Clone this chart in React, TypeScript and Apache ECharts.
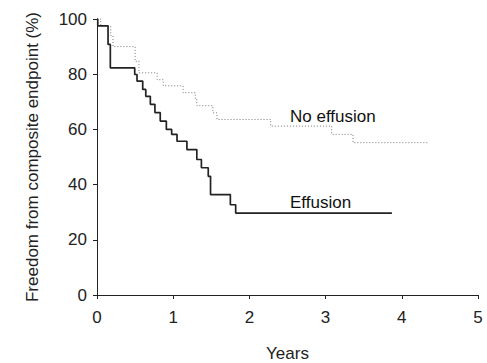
import React, { useEffect, useRef } from "react";
import * as echarts from "echarts";

// Kaplan-Meier step points: [years, % free from endpoint]
const effusionTimes = [0, 0.01, 0.145, 0.175, 0.495, 0.525, 0.6, 0.64, 0.7, 0.76, 0.83, 0.91, 0.98, 1.05, 1.18, 1.31, 1.37, 1.46, 1.49, 1.75, 1.82, 3.87];
const effusionValues = [100, 97.5, 90.8, 82.3, 79.9, 77.5, 74.5, 72, 69.1, 66.1, 63, 60, 58.2, 55.7, 52.7, 49.1, 46.1, 43, 36.4, 32.7, 29.7, 29.7];

const noEffusionTimes = [0, 0.05, 0.18, 0.21, 0.5, 0.55, 0.79, 0.87, 1.13, 1.29, 1.31, 1.52, 1.575, 2.28, 3.08, 3.36, 4.35];
const noEffusionValues = [100, 97.5, 94, 90, 84.7, 80.5, 78, 75.8, 73.3, 71, 68.6, 66, 63.6, 61.2, 58.2, 55.2, 55.2];

const xTicks = [0, 1, 2, 3, 4, 5];
const yTicks = [0, 20, 40, 60, 80, 100];

const seriesLabels = ["Effusion", "No effusion"];
const xTitle = "Years";
const yTitle = "Freedom from composite endpoint (%)";

const FONT = "Liberation Sans, Arial, Helvetica, sans-serif";

export default function App() {
  const ref = useRef<HTMLDivElement>(null);
  useEffect(() => {
    if (!ref.current) return;
    const chart = echarts.init(ref.current, undefined, { renderer: "svg" });
    const eff = effusionTimes.map((t, i) => [t, effusionValues[i]]);
    const noEff = noEffusionTimes.map((t, i) => [t, noEffusionValues[i]]);
    chart.setOption({
      animation: false,
      backgroundColor: "#ffffff",
      grid: { left: 97, right: 9, top: 19, bottom: 68, containLabel: false, outerBoundsMode: "none" },
      xAxis: {
        type: "value",
        min: xTicks[0],
        max: xTicks[xTicks.length - 1],
        interval: 1,
        name: xTitle,
        nameLocation: "middle",
        nameGap: 50,
        nameTextStyle: { fontFamily: FONT, fontSize: 17, lineHeight: 17, color: "#222" },
        axisLine: { show: true, onZero: false, lineStyle: { color: "#222", width: 1 } },
        axisTick: { show: true, length: 4, lineStyle: { color: "#222" } },
        axisLabel: { fontFamily: FONT, fontSize: 17, color: "#222", margin: 14 },
        splitLine: { show: false },
      },
      yAxis: {
        type: "value",
        min: yTicks[0],
        max: yTicks[yTicks.length - 1],
        interval: 20,
        name: yTitle,
        nameLocation: "middle",
        nameGap: 56,
        nameRotate: 90,
        nameTextStyle: { fontFamily: FONT, fontSize: 17, color: "#222" },
        axisLine: { show: true, lineStyle: { color: "#222", width: 1 } },
        axisTick: { show: true, length: 4, lineStyle: { color: "#222" } },
        axisLabel: { fontFamily: FONT, fontSize: 17, color: "#222", margin: 10 },
        splitLine: { show: false },
      },
      series: [
        {
          name: seriesLabels[1],
          type: "line",
          step: "end",
          data: noEff,
          symbol: "none",
          lineStyle: { color: "#777", width: 1, type: [1, 2] },
          z: 2,
        },
        {
          name: seriesLabels[0],
          type: "line",
          step: "end",
          data: eff,
          symbol: "none",
          lineStyle: { color: "#222", width: 1.7 },
          z: 3,
        },
      ],
      graphic: [
        {
          type: "text",
          left: 290,
          top: 108,
          style: { text: seriesLabels[1], font: `17px ${FONT}`, fill: "#111" },
        },
        {
          type: "text",
          left: 290,
          top: 194,
          style: { text: seriesLabels[0], font: `17px ${FONT}`, fill: "#111" },
        },
      ],
    });
    return () => chart.dispose();
  }, []);
  return (
    <div
      ref={ref}
      style={{ position: "fixed", left: 0, top: 0, width: 487, height: 363, background: "#fff" }}
    />
  );
}
